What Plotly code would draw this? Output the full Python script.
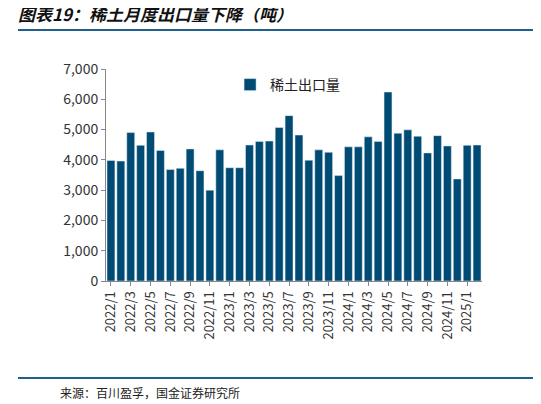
import plotly.graph_objects as go

months = [f"{y}/{m}" for y in (2022, 2023, 2024) for m in range(1, 13)] + ["2025/1", "2025/2"]
values = [3980, 3960, 4900, 4480, 4920, 4310, 3680, 3720, 4360, 3640, 3000, 4330,
          3740, 3740, 4490, 4610, 4620, 5070, 5460, 4820, 3990, 4330, 4250, 3480,
          4430, 4430, 4760, 4610, 6240, 4880, 4990, 4780, 4230, 4800, 4460, 3370,
          4480, 4490]
tick_labels = months[::2]

fig = go.Figure(go.Bar(x=months, y=values, name="稀土出口量", marker_color="#004B73",
                       width=0.8, showlegend=True))
F = "Noto Sans CJK SC"
fig.update_layout(
    width=541, height=404, plot_bgcolor="white", paper_bgcolor="white",
    margin=dict(l=98, r=67, t=61, b=131, autoexpand=False),
    font=dict(family=F, size=13, color="#333"),
    legend=dict(x=0.33, y=1.0, xanchor="left", yanchor="top", font=dict(size=14, color="#222")),
    xaxis=dict(tickvals=tick_labels, ticktext=tick_labels, tickangle=-90, showline=True,
               linecolor="#888", ticks="outside", tickcolor="#888", ticklen=4, tickfont=dict(size=13)),
    yaxis=dict(range=[0, 7000], dtick=1000, tickformat=",", showgrid=False, showline=True,
               linecolor="#888", ticks="outside", tickcolor="#888", ticklen=4, tickfont=dict(size=14)),
    bargap=0.2,
    shapes=[
        dict(type="line", xref="paper", yref="paper", x0=-0.234, x1=1.149, y0=1.184, y1=1.184,
             line=dict(color="#1F5F8B", width=2)),
        dict(type="line", xref="paper", yref="paper", x0=-0.234, x1=1.149, y0=-0.458, y1=-0.458,
             line=dict(color="#1F5F8B", width=2)),
    ],
    annotations=[
        dict(text="<b><i>图表19：稀土月度出口量下降（吨）</i></b>", xref="paper", yref="paper",
             x=-0.239, y=1.26, xanchor="left", yanchor="middle", showarrow=False,
             font=dict(size=17, color="#111", family=F)),
        dict(text="来源：百川盈孚，国金证券研究所", xref="paper", yref="paper",
             x=-0.128, y=-0.524, xanchor="left", yanchor="middle", showarrow=False,
             font=dict(size=12, color="#222", family=F)),
    ],
)
fig.write_html("out.html")
